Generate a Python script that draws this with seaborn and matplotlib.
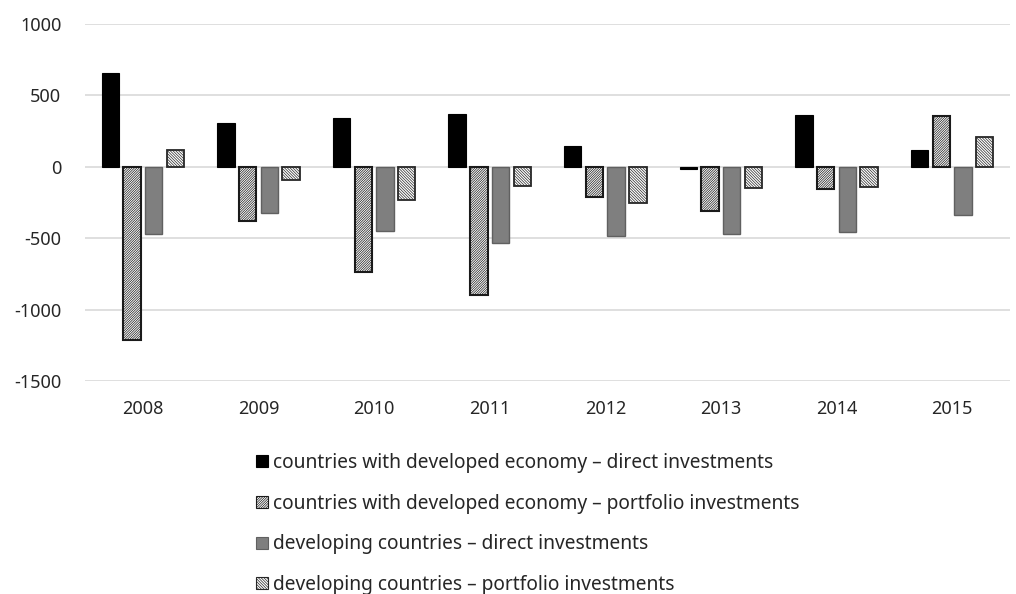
import numpy as np
import pandas as pd
import matplotlib
matplotlib.use("Agg")
import matplotlib.pyplot as plt
import seaborn as sns
from matplotlib.patches import Patch

years = ["2008", "2009", "2010", "2011", "2012", "2013", "2014", "2015"]
series = [
    "countries with developed economy \u2013 direct investments",
    "countries with developed economy \u2013 portfolio investments",
    "developing countries \u2013 direct investments",
    "developing countries \u2013 portfolio investments",
]
dev_direct = [655, 309, 341, 372, 146, -15, 365, 118]
dev_portfolio = [-1210, -380, -738, -898, -213, -313, -158, 355]
devg_direct = [-469, -327, -452, -531, -485, -469, -457, -341]
devg_portfolio = [121, -95, -234, -134, -250, -146, -141, 207]
yticks = [-1500, -1000, -500, 0, 500, 1000]

values = [dev_direct, dev_portfolio, devg_direct, devg_portfolio]
df = pd.DataFrame({
    "year": [y for s in values for y in years],
    "series": [name for name, s in zip(series, values) for _ in s],
    "value": [v for s in values for v in s],
})

sns.set_theme(style="white")
plt.rcParams["font.family"] = ["Noto Sans", "DejaVu Sans"]
plt.rcParams["hatch.linewidth"] = 0.5

fig = plt.figure(figsize=(10.16, 5.94), dpi=100)
ax = fig.add_axes([85 / 1016, 1 - 381 / 594, 925 / 1016, 357 / 594])

sns.barplot(data=df, x="year", y="value", hue="series", order=years,
            hue_order=series, ax=ax, width=0.75, gap=0.2,
            palette=["#000000", "#ffffff", "#7f7f7f", "#ffffff"],
            legend=False, errorbar=None, saturation=1)

styles = [
    dict(facecolor="#000000", edgecolor="#000000", hatch=None, lw=0.8),
    dict(facecolor="#ffffff", edgecolor="#1a1a1a", hatch="/" * 14, lw=1.5),
    dict(facecolor="#7f7f7f", edgecolor="#606060", hatch=None, lw=1.0),
    dict(facecolor="#ffffff", edgecolor="#262626", hatch="\\" * 12, lw=1.3),
]
for cont, st in zip(ax.containers, styles):
    for p in cont:
        p.set_facecolor(st["facecolor"])
        p.set_edgecolor(st["edgecolor"])
        p.set_linewidth(st["lw"])
        if st["hatch"]:
            p.set_hatch(st["hatch"])

ax.set_ylim(-1500, 1000)
ax.set_yticks(yticks)
ax.set_yticklabels([str(t) for t in yticks])
ax.yaxis.grid(True, color="#d9d9d9", linewidth=1.2)
ax.set_axisbelow(True)
for s in ax.spines.values():
    s.set_visible(False)
ax.tick_params(axis="both", length=0, labelsize=13, colors="#262626")
ax.tick_params(axis="y", pad=17)
ax.tick_params(axis="x", pad=14)
ax.set_xlabel("")
ax.set_ylabel("")

handles = []
for st in styles:
    handles.append(Patch(facecolor=st["facecolor"], edgecolor=st["edgecolor"],
                         hatch=st["hatch"], linewidth=0.8))
leg = fig.legend(handles, series, loc="upper left",
                 bbox_to_anchor=(256 / 1016, 1 - 453 / 594),
                 frameon=False, fontsize=13.8, handlelength=0.6,
                 handleheight=0.6, handletextpad=0.3, labelspacing=1.08,
                 borderaxespad=0, borderpad=0)
for t in leg.get_texts():
    t.set_color("#262626")

fig.savefig("out.png", dpi=100)
